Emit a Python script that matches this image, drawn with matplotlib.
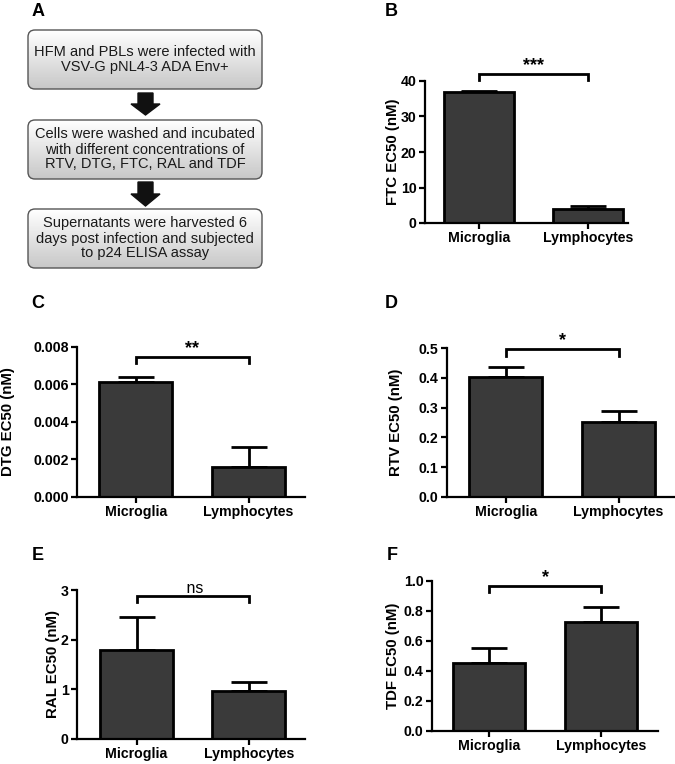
import numpy as np
import matplotlib
matplotlib.use("Agg")
import matplotlib.pyplot as plt
from matplotlib.patches import FancyBboxPatch, Polygon

plt.rcParams["font.family"] = ["Liberation Sans", "DejaVu Sans"]

groups = ["Microglia", "Lymphocytes"]

ftc_mean = [36.8, 3.86]
ftc_err = [0.5, 0.95]
dtg_mean = [0.00615, 0.00158]
dtg_err = [0.00023, 0.00107]
rtv_mean = [0.404, 0.251]
rtv_err = [0.031, 0.038]
ral_mean = [1.79, 0.97]
ral_err = [0.66, 0.17]
tdf_mean = [0.451, 0.727]
tdf_err = [0.10, 0.102]

flow_steps = [
    ["HFM and PBLs were infected with", "VSV-G pNL4-3 ADA Env+"],
    ["Cells were washed and incubated", "with different concentrations of",
     "RTV, DTG, FTC, RAL and TDF"],
    ["Supernatants were harvested 6", "days post infection and subjected",
     "to p24 ELISA assay"],
]

W, H = 675, 764
fig = plt.figure(figsize=(W / 100, H / 100), dpi=100)


def rect(left, right, top, bottom):
    return [left / W, 1 - bottom / H, (right - left) / W, (bottom - top) / H]


# panel A: flow diagram drawn in pixel coordinates
axA = fig.add_axes([0, 0, 1, 1])
axA.set_xlim(0, W)
axA.set_ylim(H, 0)
axA.axis("off")

boxes = [(30, 89), (120, 179), (209, 268)]
grad = np.linspace(1.0, 0.78, 100).reshape(-1, 1)
for (top, bot), lines in zip(boxes, flow_steps):
    patch = FancyBboxPatch((28, top), 234, bot - top,
                           boxstyle="round,pad=0,rounding_size=7",
                           facecolor="none", edgecolor="#555555", lw=1.0, zorder=3)
    axA.add_patch(patch)
    im = axA.imshow(grad, cmap="gray", vmin=0, vmax=1, aspect="auto",
                    extent=(28, 262, bot, top), zorder=2)
    im.set_clip_path(patch)
    mid = (top + bot) / 2
    n = len(lines)
    for i, line in enumerate(lines):
        y = mid + (i - (n - 1) / 2) * 15
        axA.text(145, y, line, ha="center", va="center", fontsize=10.5, color="#1a1a1a")

for top, hs, tip in [(93, 104, 115), (182, 194, 206)]:
    axA.add_patch(Polygon([(138, top), (153, top), (153, hs), (160, hs), (145.5, tip),
                           (131, hs), (138, hs)], closed=True, color="#111111"))

for lab, x, y in [("A", 32, 11), ("B", 385, 11), ("C", 31, 303),
                  ("D", 385, 303), ("E", 32, 555), ("F", 387, 555)]:
    axA.text(x, y, lab, ha="left", va="center", fontsize=13, fontweight="bold")


def bar_panel(box, means, errs, ylabel, label_x, ylim, yticks, fmt, xlim, bracket, mark):
    left, right, top, bottom = box
    ax = fig.add_axes(rect(left, right, top, bottom))
    x = np.arange(len(groups))
    ax.bar(x, means, width=0.65, color="#3a3a3a", edgecolor="black", lw=2, zorder=2)
    ax.errorbar(x, means, yerr=[[0, 0], errs], fmt="none", ecolor="black",
                elinewidth=2, capsize=13, capthick=2, zorder=1)
    ax.set_xlim(*xlim)
    ax.set_ylim(*ylim)
    ax.set_yticks(yticks)
    ax.set_yticklabels([fmt.format(t) for t in yticks])
    ax.set_xticks(x)
    ax.set_xticklabels(groups)
    for s in ["top", "right"]:
        ax.spines[s].set_visible(False)
    for s in ["left", "bottom"]:
        ax.spines[s].set_linewidth(1.6)
    ax.tick_params(width=1.6, length=4, labelsize=10.2, pad=2)
    for t in ax.get_xticklabels() + ax.get_yticklabels():
        t.set_fontweight("bold")
    ax.set_ylabel(ylabel, fontsize=10.8, fontweight="bold")
    ax.yaxis.set_label_coords((label_x + 6 - left) / (right - left), 0.5)
    hy, ly = bracket
    ax.plot([0, 0, 1, 1], [ly, hy, hy, ly], color="black", lw=2, clip_on=False,
            solid_joinstyle="miter")
    if mark == "ns":
        ax.text(0.5, hy, " ns", ha="center", va="bottom", fontsize=11.5)
    else:
        ax.text(0.5, hy, mark, ha="center", va="bottom", fontsize=13, fontweight="bold")
    return ax


bar_panel((425, 628, 81, 223), ftc_mean, ftc_err, "FTC EC50 (nM)", 394, (0, 40),
          [0, 10, 20, 30, 40], "{:.0f}", (-0.495, 1.367), (42.0, 40.3), "***")
bar_panel((77, 305, 347, 497), dtg_mean, dtg_err, "DTG EC50 (nM)", 9, (0, 0.008),
          [0, 0.002, 0.004, 0.006, 0.008], "{:.3f}", (-0.52, 1.5), (0.00748, 0.00713), "**")
bar_panel((447, 675, 348, 497), rtv_mean, rtv_err, "RTV EC50 (nM)", 397, (0, 0.5),
          [0, 0.1, 0.2, 0.3, 0.4, 0.5], "{:.1f}", (-0.52, 1.5), (0.497, 0.473), "*")
bar_panel((77, 305, 590, 739), ral_mean, ral_err, "RAL EC50 (nM)", 54, (0, 3),
          [0, 1, 2, 3], "{:.0f}", (-0.53, 1.5), (2.88, 2.76), "ns")
bar_panel((432, 658, 581, 731), tdf_mean, tdf_err, "TDF EC50 (nM)", 394, (0, 1.0),
          [0, 0.2, 0.4, 0.6, 0.8, 1.0], "{:.1f}", (-0.51, 1.51), (0.969, 0.929), "*")

fig.savefig("out.png", dpi=100)
